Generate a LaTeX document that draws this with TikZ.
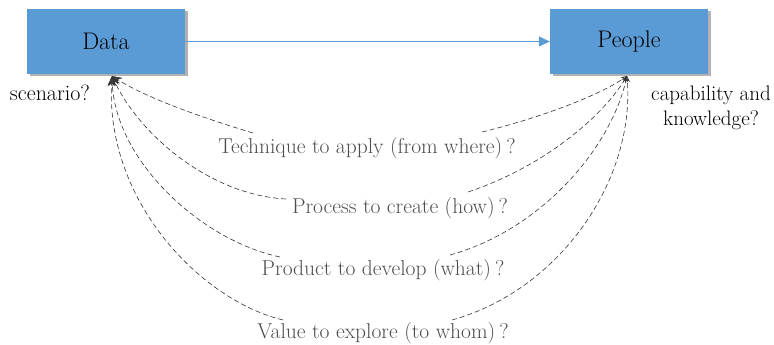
\documentclass[tikz,border=0pt]{standalone}
\usepackage{fontspec}
\usetikzlibrary{arrows.meta,shadows}
\definecolor{boxblue}{HTML}{5B9BD5}
\definecolor{labgray}{HTML}{4D4D4D}
\begin{document}
\begin{tikzpicture}[x=1pt,y=-1pt,
  box/.style={draw=none,fill=boxblue,minimum width=158pt,minimum height=65pt,inner sep=0pt,
    font=\rmfamily\fontsize{24}{27}\selectfont,
    drop shadow={shadow xshift=2.5pt,shadow yshift=-2.5pt,opacity=0.3,fill=black}},
  qlab/.style={text=labgray,font=\rmfamily\fontsize{21.5}{24}\selectfont,inner sep=0pt},
  note/.style={text=black,font=\rmfamily\fontsize{21}{25}\selectfont,inner sep=0pt,align=center},
  link/.style={draw=black!80,dashed,dash pattern=on 5pt off 3pt,line width=0.6pt},
  dtip/.style={-{Stealth[length=10pt,width=8pt,fill=black!75]}},
  ptip/.style={-{Stealth[length=6pt,width=5pt,open]}},
  main/.style={draw=boxblue,line width=1.3pt,-{Triangle[length=11pt,width=10pt]}}
]
\useasboundingbox (0,0) rectangle (774,345);
\node[box] (data) at (106,41.5) {Data};
\node[box] (people) at (629,41.5) {People};
\draw[main] (data.east) -- (people.west);

\coordinate (dEnd) at (112,76);
\coordinate (pEnd) at (627,76);

\node[note,font=\rmfamily\fontsize{22}{25}\selectfont] (scen) at (50,93) {scenario?};
\node[note] (capab) at (711,108) {capability and\\knowledge?};

\node[qlab] (t1) at (367,148) {Technique to apply (from where)\hspace{4pt}?};
\node[qlab] (t2) at (400,208) {Process to create (how)\hspace{4pt}?};
\node[qlab] (t3) at (383,270) {Product to develop (what)\hspace{4pt}?};
\node[qlab] (t4) at (383,333) {Value to explore (to whom)\hspace{4pt}?};

\coordinate (t1l) at (253,133); \coordinate (t1r) at (482,132);
\coordinate (t2l) at (286,199); \coordinate (t2r) at (468,192);
\coordinate (t3l) at (280,257); \coordinate (t3r) at (450,255);
\coordinate (t4l) at (283,320); \coordinate (t4r) at (452,320);

\draw[link,dtip] (t1l) .. controls (210,120) and (150,100) .. (dEnd);
\draw[link,ptip] (t1r) .. controls (540,118) and (600,95) .. (pEnd);
\draw[link,dtip] (t2l) .. controls (210,195) and (140,135) .. (dEnd);
\draw[link,ptip] (t2r) .. controls (540,168) and (600,120) .. (pEnd);
\draw[link,dtip] (t3l) .. controls (200,240) and (115,160) .. (dEnd);
\draw[link,ptip] (t3r) .. controls (540,230) and (610,150) .. (pEnd);
\draw[link,dtip] (t4l) .. controls (200,300) and (105,200) .. (dEnd);
\draw[link,ptip] (t4r) .. controls (560,290) and (635,180) .. (pEnd);
\end{tikzpicture}
\end{document}
